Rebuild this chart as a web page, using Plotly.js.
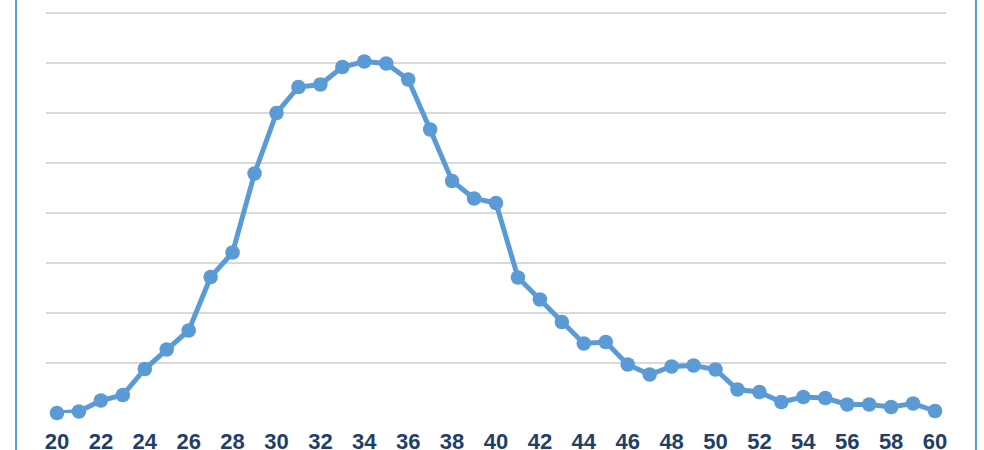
<!DOCTYPE html>
<html>
<head>
<meta charset="utf-8">
<script src="https://cdn.plot.ly/plotly-3.0.1.min.js"></script>
<style>html,body{margin:0;padding:0;background:#fff;}#chart{width:984px;height:450px;}</style>
</head>
<body>
<div id="chart"></div>
<script>
var ages = [20,21,22,23,24,25,26,27,28,29,30,31,32,33,34,35,36,37,38,39,40,41,42,43,44,45,46,47,48,49,50,51,52,53,54,55,56,57,58,59,60];
var values = [0.0,0.03,0.25,0.36,0.88,1.27,1.65,2.72,3.21,4.79,6.0,6.52,6.57,6.92,7.03,6.99,6.67,5.67,4.64,4.29,4.2,2.71,2.27,1.82,1.39,1.42,0.97,0.77,0.93,0.95,0.87,0.47,0.42,0.22,0.32,0.30,0.17,0.17,0.12,0.19,0.04];
var tickVals = [20,22,24,26,28,30,32,34,36,38,40,42,44,46,48,50,52,54,56,58,60];
var tickText = tickVals.map(String);

var trace = {
  x: ages, y: values, type: 'scatter', mode: 'lines+markers',
  line: {color: '#5B9BD5', width: 5},
  marker: {color: '#5B9BD5', size: 14.5},
  cliponaxis: false, hoverinfo: 'skip'
};
var layout = {
  width: 984, height: 450,
  margin: {l: 46, r: 38, t: 8, b: 37, pad: 0},
  paper_bgcolor: '#fff', plot_bgcolor: '#fff',
  showlegend: false,
  xaxis: {
    range: [19.5, 60.5], tickvals: tickVals, ticktext: tickText,
    showgrid: false, zeroline: false, showline: false, ticks: '',
    tickfont: {family: 'Liberation Sans, Arial, sans-serif', size: 22, color: '#1F3F6B', weight: 'bold'},
    ticklabelstandoff: 13
  },
  yaxis: {
    range: [0, 8.1], showticklabels: false, ticks: '',
    showgrid: true, gridcolor: '#D9D9D9', gridwidth: 1.6, dtick: 1, tick0: 0,
    zeroline: false, showline: false
  },
  shapes: [
    {type: 'line', xref: 'paper', yref: 'paper', x0: -0.0333, x1: -0.0333, y0: -0.2, y1: 1.1, line: {color: '#5B9BD5', width: 2}},
    {type: 'line', xref: 'paper', yref: 'paper', x0: 1.0333, x1: 1.0333, y0: -0.2, y1: 1.1, line: {color: '#5B9BD5', width: 2}}
  ]
};
Plotly.newPlot('chart', [trace], layout, {displayModeBar: false, staticPlot: true});
</script>
</body>
</html>
